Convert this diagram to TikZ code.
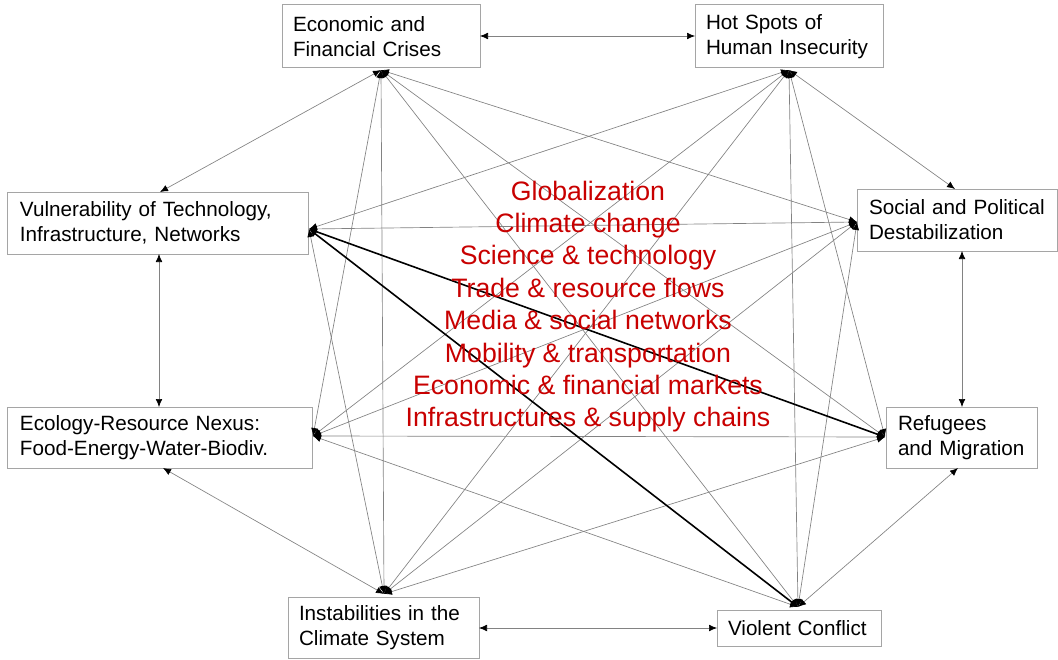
\documentclass[tikz,border=0pt]{standalone}
\usepackage{fontspec}
\setmainfont{Liberation Sans}
\usetikzlibrary{arrows.meta}
\definecolor{boxgray}{RGB}{165,165,165}
\definecolor{linegray}{RGB}{130,130,130}
\definecolor{darkred}{RGB}{200,0,0}
\begin{document}
\begin{tikzpicture}[x=0.75pt,y=-0.75pt,
  box/.style={draw=boxgray, line width=0.75pt, inner sep=0pt, align=left, anchor=center,
    font=\fontsize{15.5}{18.8}\selectfont},
  link/.style={draw=linegray, line width=0.5pt,
    {Latex[length=6pt,width=5pt,color=black]}-{Latex[length=6pt,width=5pt,color=black]}},
  strong/.style={link, draw=black, line width=1.2pt},
  driver/.style={anchor=base, text=darkred, inner sep=0pt, font=\fontsize{20}{24}\selectfont}]
\useasboundingbox (0,0) rectangle (1058,660);

% boxes
\node[box, minimum width=148.5pt, minimum height=47.25pt, text width=132pt] (E) at (381,36.5) {Economic and\\Financial Crises};
\node[box, minimum width=141pt, minimum height=47.25pt, text width=124.5pt] (H) at (789,36.5) {Hot Spots of\\Human Insecurity};
\node[box, minimum width=225.75pt, minimum height=46.5pt, text width=206.25pt] (V) at (157.5,223) {Vulnerability of Technology,\\Infrastructure, Networks};
\node[box, minimum width=150pt, minimum height=46.5pt, text width=132pt] (S) at (957,220) {Social and Political\\Destabilization};
\node[box, minimum width=228.75pt, minimum height=45.75pt, text width=209.25pt] (G) at (159.5,437.5) {Ecology-Resource Nexus:\\Food-Energy-Water-Biodiv.};
\node[box, minimum width=113.25pt, minimum height=45.75pt, text width=95.25pt] (R) at (961.5,437.5) {Refugees\\and Migration};
\node[box, minimum width=143.25pt, minimum height=45.75pt, text width=126.75pt] (I) at (383.5,627.5) {Instabilities in the\\Climate System};
\node[box, minimum width=123pt, minimum height=27pt, text width=106.5pt] (C) at (799,628) {Violent Conflict};

% hubs
\coordinate (hE) at (381,70);
\coordinate (hH) at (789,70);
\coordinate (hV) at (309,229);
\coordinate (hS) at (857,222);
\coordinate (hG) at (313,436);
\coordinate (hR) at (885,437);
\coordinate (hI) at (384,594);
\coordinate (hC) at (798,607);
% outer anchors
\coordinate (Er) at (480,36);
\coordinate (Hl) at (695,36);
\coordinate (Vt) at (160,192);
\coordinate (Vb) at (159,254);
\coordinate (Gt) at (159,407);
\coordinate (Gb) at (163,468);
\coordinate (St) at (955,189);
\coordinate (Sb) at (962,251);
\coordinate (Rt) at (962,407);
\coordinate (Rb) at (958,468);
\coordinate (Ir) at (479,628);
\coordinate (Cl) at (717,628);

% outer ring
\draw[link] (Er) -- (Hl);
\draw[link] (hH) -- (St);
\draw[link] (Sb) -- (Rt);
\draw[link] (hC) -- (Rb);
\draw[link] (Ir) -- (Cl);
\draw[link] (hI) -- (Gb);
\draw[link] (Vb) -- (Gt);
\draw[link] (hE) -- (Vt);

% inner links
\draw[link] (hE) -- (hS);
\draw[link] (hE) -- (hR);
\draw[link] (hE) -- (hC);
\draw[link] (hE) -- (hI);
\draw[link] (hE) -- (hG);
\draw[link] (hH) -- (hV);
\draw[link] (hH) -- (hG);
\draw[link] (hH) -- (hI);
\draw[link] (hH) -- (hC);
\draw[link] (hH) -- (hR);
\draw[link] (hS) -- (hV);
\draw[link] (hS) -- (hG);
\draw[link] (hS) -- (hI);
\draw[link] (hS) -- (hC);
\draw[link] (hR) -- (hG);
\draw[link] (hR) -- (hI);
\draw[link] (hC) -- (hG);
\draw[link] (hI) -- (hV);
\draw[strong] (hV) -- (hR);
\draw[strong] (hV) -- (hC);

% drivers
\node[driver] (t1) at (588,200) {Globalization};
\node[driver] (t2) at (588,232.4) {Climate change};
\node[driver] (t3) at (588,264.8) {Science \& technology};
\node[driver] (t4) at (588,297.2) {Trade \& resource flows};
\node[driver] (t5) at (588,329.6) {Media \& social networks};
\node[driver] (t6) at (588,362) {Mobility \& transportation};
\node[driver] (t7) at (588,394.4) {Economic \& financial markets};
\node[driver] (t8) at (588,426.8) {Infrastructures \& supply chains};
\end{tikzpicture}
\end{document}
